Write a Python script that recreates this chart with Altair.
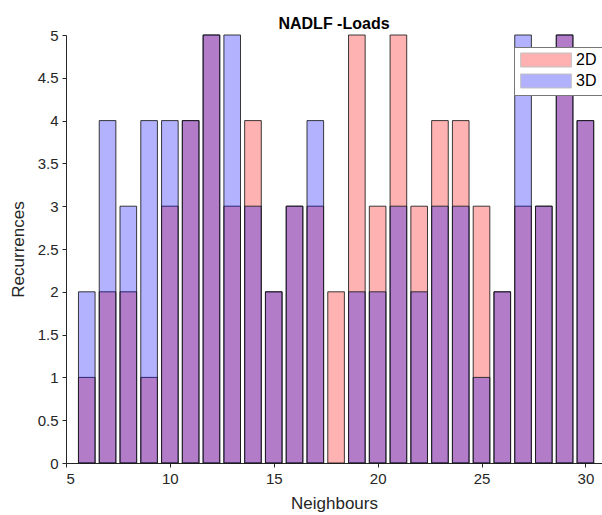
import altair as alt
import pandas as pd

neighbours = list(range(6, 31))
loads_2d = [1, 2, 2, 1, 3, 4, 5, 3, 4, 2, 3, 3, 2, 5, 3, 5, 3, 4, 4, 3, 2, 3, 3, 5, 4]
loads_3d = [2, 4, 3, 4, 4, 4, 5, 5, 3, 2, 3, 4, 0, 2, 2, 3, 2, 3, 3, 1, 2, 5, 3, 5, 4]
series_names = ["2D", "3D"]
y_ticks = [0, 0.5, 1, 1.5, 2, 2.5, 3, 3.5, 4, 4.5, 5]
x_ticks = [5, 10, 15, 20, 25, 30]

rows = []
for i, (name, vals) in enumerate(zip(series_names, [loads_2d, loads_3d])):
    for n, v in zip(neighbours, vals):
        if v > 0:
            rows.append({"Neighbours": n, "Recurrences": v, "Series": name, "order": i})
df = pd.DataFrame(rows)

FONT = "Liberation Sans"
TXT = "#262626"

chart = (
    alt.Chart(df)
    .transform_calculate(lo="datum.Neighbours - 0.4", hi="datum.Neighbours + 0.4")
    .mark_bar(fillOpacity=0.3, stroke="#1a1a1a", strokeWidth=1, strokeOpacity=0.85)
    .encode(
        x=alt.X(
            "lo:Q",
            scale=alt.Scale(domain=[5, 30.8], nice=False, zero=False),
            axis=alt.Axis(
                title="Neighbours",
                values=x_ticks,
                grid=False,
                tickSize=4,
                labelFontSize=15,
                titleFontSize=17,
                titleFontWeight="normal",
                labelPadding=4,
                titlePadding=9,
            ),
        ),
        x2="hi:Q",
        y=alt.Y(
            "Recurrences:Q",
            scale=alt.Scale(domain=[0, 5], nice=False, padding=0),
            axis=alt.Axis(
                title="Recurrences",
                values=y_ticks,
                format="~g",
                grid=False,
                tickSize=4,
                labelFontSize=15,
                titleFontSize=17,
                titleFontWeight="normal",
                labelPadding=4,
                titlePadding=10,
            ),
        ),
        y2=alt.datum(0),
        color=alt.Color(
            "Series:N",
            scale=alt.Scale(domain=series_names, range=["#FF0000", "#0000FF"]),
            legend=alt.Legend(
                title=None,
                orient="none",
                legendX=448,
                legendY=12,
                fillColor="white",
                strokeColor="#777777",
                padding=5,
                symbolType="M-4,-1.1H4V1.1H-4Z",
                symbolSize=160,
                symbolOffset=19,
                symbolStrokeColor="#333333",
                symbolStrokeWidth=1,
                symbolOpacity=0.3,
                labelFontSize=16,
                labelFont=FONT,
                labelColor="#000000",
                labelOffset=22,
                rowPadding=3,
            ),
        ),
        order=alt.Order("order:Q"),
    )
    .properties(
        width=536,
        height=428,
        title=alt.TitleParams("NADLF -Loads", fontSize=16, fontWeight="bold", font=FONT, color="#000000", offset=-4),
        padding={"left": 66, "top": 35, "right": 0, "bottom": 52},
        autosize=alt.AutoSizeParams(type="none"),
    )
    .configure_view(stroke=None)
    .configure_axis(
        labelFont=FONT,
        titleFont=FONT,
        labelColor=TXT,
        titleColor=TXT,
        domainColor=TXT,
        tickColor=TXT,
    )
)

chart.save("out.html", embed_options={"renderer": "svg", "actions": False})
